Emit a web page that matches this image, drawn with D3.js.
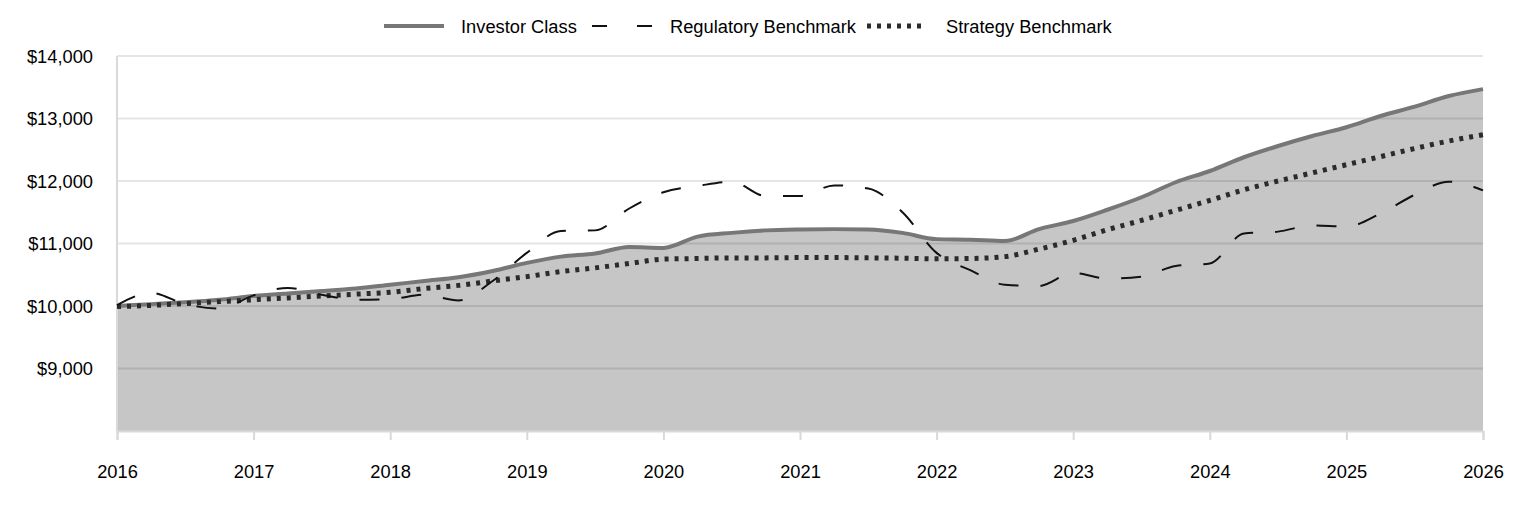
<!DOCTYPE html>
<html>
<head>
<meta charset="utf-8">
<script src="https://cdn.jsdelivr.net/npm/d3@7"></script>
<style>
  body { margin: 0; background: #fff; }
  text { font-family: "Liberation Sans", Arial, sans-serif; }
</style>
</head>
<body>
<svg id="chart" width="1524" height="516"></svg>
<script>
// quarterly points, 2016 to 2026
var years = d3.range(0, 41).map(function(i) { return 2016 + i * 0.25; });
var investor = [10000, 10030, 10060, 10100, 10160, 10200, 10240, 10280, 10340, 10400,
  10460, 10560, 10690, 10790, 10840, 10945, 10930, 11110, 11170, 11210,
  11225, 11230, 11225, 11170, 11070, 11060, 11040, 11230, 11360, 11540,
  11740, 11980, 12160, 12380, 12560, 12720, 12860, 13040, 13190, 13360, 13470];
var regulatory = [10015, 10210, 10030, 9960, 10170, 10290, 10180, 10100, 10110, 10180,
  10090, 10400, 10850, 11200, 11210, 11560, 11820, 11920, 11990, 11760,
  11760, 11930, 11880, 11500, 10850, 10570, 10340, 10320, 10530, 10440,
  10470, 10640, 10680, 11160, 11190, 11290, 11270, 11480, 11780, 11990, 11850];
var strategy = [9990, 10010, 10040, 10070, 10100, 10130, 10160, 10190, 10220, 10280,
  10330, 10400, 10470, 10550, 10610, 10680, 10750, 10760, 10770, 10770,
  10775, 10775, 10770, 10765, 10755, 10760, 10790, 10910, 11050, 11220,
  11370, 11530, 11690, 11860, 12000, 12130, 12260, 12390, 12520, 12640, 12740];
var xTicks = [2016, 2017, 2018, 2019, 2020, 2021, 2022, 2023, 2024, 2025, 2026];
var yTicks = [9000, 10000, 11000, 12000, 13000, 14000];
var legendNames = ["Investor Class", "Regulatory Benchmark", "Strategy Benchmark"];

var svg = d3.select("#chart");
var mLeft = 117, mRight = 1483, mTop = 56, mBottom = 431;
var fs = 18.3;

var x = d3.scaleLinear().domain([2016, 2026]).range([mLeft, mRight]);
var y = d3.scaleLinear().domain([8000, 14000]).range([mBottom, mTop]);

function pts(arr) {
  return arr.map(function(v, i) { return [years[i], v]; });
}

var line = d3.line()
  .x(function(d) { return x(d[0]); })
  .y(function(d) { return y(d[1]); })
  .curve(d3.curveMonotoneX);

var area = d3.area()
  .x(function(d) { return x(d[0]); })
  .y0(mBottom)
  .y1(function(d) { return y(d[1]); })
  .curve(d3.curveMonotoneX);

// shaded area under the fund line
svg.append("path")
  .datum(pts(investor))
  .attr("d", area)
  .attr("fill", "#c6c6c6");

// gridlines
svg.append("g").selectAll("line")
  .data(yTicks)
  .enter().append("line")
  .attr("x1", mLeft).attr("x2", mRight)
  .attr("y1", function(d) { return y(d); })
  .attr("y2", function(d) { return y(d); })
  .attr("stroke", "rgba(0,0,0,0.1)")
  .attr("stroke-width", 2);

// y labels
svg.append("g").selectAll("text")
  .data(yTicks)
  .enter().append("text")
  .attr("x", 93)
  .attr("y", function(d) { return y(d) + 6.5; })
  .attr("text-anchor", "end")
  .attr("font-size", fs)
  .attr("fill", "#000")
  .text(function(d) { return "$" + d3.format(",")(d); });

// axes
var xAxis = svg.append("g")
  .attr("transform", "translate(0," + mBottom + ")")
  .call(d3.axisBottom(x).tickValues(xTicks).tickFormat(d3.format("d")).tickSize(9).tickPadding(25));
xAxis.select(".domain").attr("stroke", "#d9d9d9").attr("stroke-width", 2);
xAxis.selectAll(".tick line").attr("stroke", "#d9d9d9").attr("stroke-width", 2);
xAxis.selectAll("text").attr("font-size", fs).attr("fill", "#000")
  .attr("font-family", "Liberation Sans, Arial, sans-serif");

svg.append("line")
  .attr("x1", mLeft).attr("x2", mLeft)
  .attr("y1", mTop).attr("y2", mBottom)
  .attr("stroke", "#d9d9d9").attr("stroke-width", 2);

// series lines
svg.append("path")
  .datum(pts(investor))
  .attr("d", line)
  .attr("fill", "none")
  .attr("stroke", "#777")
  .attr("stroke-width", 4);

svg.append("path")
  .datum(pts(strategy))
  .attr("d", line)
  .attr("fill", "none")
  .attr("stroke", "#2b2b2b")
  .attr("stroke-width", 5)
  .attr("stroke-dasharray", "4,6");

svg.append("path")
  .datum(pts(regulatory))
  .attr("d", line)
  .attr("fill", "none")
  .attr("stroke", "#111")
  .attr("stroke-width", 2)
  .attr("stroke-dasharray", "20,22");

// legend
var legend = svg.append("g");
var lg = [
  { x1: 384, x2: 444, tx: 461, stroke: "#777", w: 4, dash: null },
  { x1: 592, x2: 652, tx: 670, stroke: "#111", w: 2, dash: "15,30" },
  { x1: 867, x2: 922, tx: 946, stroke: "#2b2b2b", w: 5, dash: "4,6" }
];
lg.forEach(function(d, i) {
  legend.append("line")
    .attr("x1", d.x1).attr("x2", d.x2)
    .attr("y1", 26).attr("y2", 26)
    .attr("stroke", d.stroke)
    .attr("stroke-width", d.w)
    .attr("stroke-dasharray", d.dash);
  legend.append("text")
    .attr("x", d.tx).attr("y", 32.5)
    .attr("font-size", fs)
    .text(legendNames[i]);
});
</script>
</body>
</html>
